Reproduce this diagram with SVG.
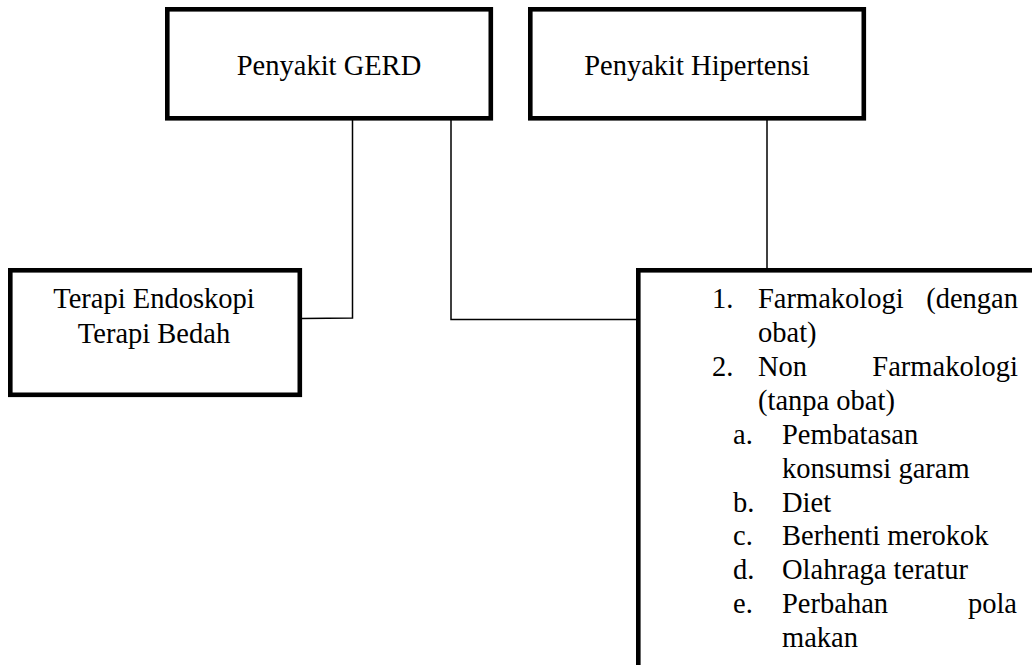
<svg xmlns="http://www.w3.org/2000/svg" width="1032" height="665" viewBox="0 0 1032 665">
<style>
.box{fill:#ffffff;stroke:#000000;stroke-width:4.6}
text{font-family:'Liberation Serif','Times New Roman',Times,serif;font-size:28.5px;fill:#000000}
.c{text-anchor:middle}
.e{text-anchor:end}
.ln{fill:none;stroke:#000000;stroke-width:1.5}
</style>
<rect width="1032" height="665" fill="#ffffff"/>
<g id="connectors">
<polyline class="ln" points="352.5,120 352.5,318 302,318.5"/>
<polyline class="ln" points="451,120 451,319.5 637,319.5"/>
<line class="ln" x1="767" y1="120" x2="767" y2="268"/>
</g>
<g id="node-gerd">
<rect class="box" x="167.3" y="9.3" width="323.5" height="109"/>
<text class="c" x="329" y="75" font-family="Liberation Serif">Penyakit GERD</text>
</g>
<g id="node-hipertensi">
<rect class="box" x="530.3" y="9.3" width="333.5" height="109"/>
<text class="c" x="697" y="75" font-family="Liberation Serif">Penyakit Hipertensi</text>
</g>
<g id="node-terapi">
<rect class="box" x="10.3" y="270.3" width="289.5" height="124.5"/>
<text class="c" x="154" y="308">Terapi Endoskopi</text>
<text class="c" x="154" y="342.5">Terapi Bedah</text>
</g>
<g id="node-penanganan">
<rect class="box" x="638.3" y="270.3" width="400" height="420"/>
<text x="712" y="308">1.</text>
<text x="758" y="308">Farmakologi</text>
<text class="e" x="1018" y="308">(dengan</text>
<text x="758" y="342">obat)</text>
<text x="712" y="376">2.</text>
<text x="758" y="376">Non</text>
<text class="e" x="1018" y="376">Farmakologi</text>
<text x="758" y="410">(tanpa obat)</text>
<text x="733" y="444">a.</text>
<text x="782" y="444">Pembatasan</text>
<text x="782" y="477.5">konsumsi garam</text>
<text x="733" y="511.5">b.</text>
<text x="782" y="511.5">Diet</text>
<text x="733" y="545">c.</text>
<text x="782" y="545">Berhenti merokok</text>
<text x="733" y="579">d.</text>
<text x="782" y="579">Olahraga teratur</text>
<text x="733" y="613">e.</text>
<text x="782" y="613">Perbahan</text>
<text class="e" x="1017" y="613">pola</text>
<text x="782" y="647">makan</text>
</g>
</svg>
